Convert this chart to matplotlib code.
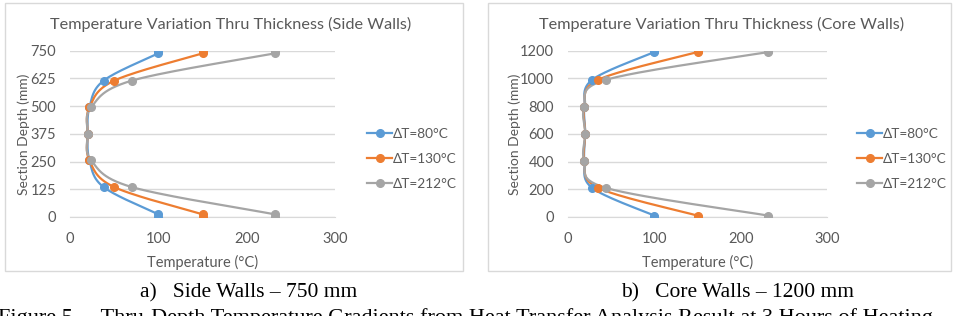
import numpy as np
import matplotlib
matplotlib.use("Agg")
import matplotlib.pyplot as plt
from matplotlib.patches import Rectangle

# side walls (750 mm)
side_depth = [0, 12, 135, 255, 375, 495, 615, 738, 750]
side_80 = [100, 100, 38, 22, 20, 22, 38, 100, 100]
side_130 = [150, 150, 50, 22, 20, 22, 50, 150, 150]
side_212 = [232, 232, 70, 24, 20, 24, 70, 232, 232]

# core walls (1200 mm)
core_depth = [0, 10, 210, 405, 600, 795, 990, 1190, 1200]
core_80 = [100, 100, 28, 19, 20, 19, 28, 100, 100]
core_130 = [150, 150, 35, 19, 20, 19, 35, 150, 150]
core_212 = [232, 232, 44, 19, 20, 19, 44, 232, 232]

labels = ["ΔT=80°C", "ΔT=130°C", "ΔT=212°C"]
colors = ["#5B9BD5", "#ED7D31", "#A5A5A5"]

plt.rcParams["font.family"] = ["Lato", "DejaVu Sans"]
txt = "#595959"


def smooth(x, y, sx, sy, n=30):
    # excel-like bezier smoothing in screen units, end pairs joined straight
    p = np.column_stack([np.array(x) * sx, np.array(y) * sy])
    inner = p[1:-1]
    out = [p[0], inner[0]]
    for i in range(len(inner) - 1):
        p0 = inner[i - 1] if i > 0 else inner[i]
        p1, p2 = inner[i], inner[i + 1]
        p3 = inner[i + 2] if i + 2 < len(inner) else inner[i + 1]
        c1 = p1 + (p2 - p0) / 6
        c2 = p2 - (p3 - p1) / 6
        t = np.linspace(0, 1, n)[1:, None]
        seg = (1 - t) ** 3 * p1 + 3 * (1 - t) ** 2 * t * c1 + 3 * (1 - t) * t ** 2 * c2 + t ** 3 * p2
        out.extend(seg)
    out.append(p[-1])
    out = np.array(out)
    return out[:, 0] / sx, out[:, 1] / sy


fig = plt.figure(figsize=(9.6, 3.16), dpi=100)

W, H = 960, 316
for bx0, bx1 in [(5, 463), (488, 951)]:
    fig.patches.append(Rectangle((bx0 / W, 1 - 271 / H), (bx1 - bx0) / W, 268 / H,
                                 transform=fig.transFigure, fill=False,
                                 edgecolor="#D9D9D9", lw=1))

panels = [
    (70, 335, side_depth, [side_80, side_130, side_212], 750, 125,
     "Temperature Variation Thru Thickness (Side Walls)", 367, 231, 24),
    (568, 827, core_depth, [core_80, core_130, core_212], 1200, 200,
     "Temperature Variation Thru Thickness (Core Walls)", 857, 722, 515),
]

for x0, x1, depth, series, ymax, ystep, title, legx, titlex, ylabx in panels:
    ax = fig.add_axes([x0 / W, 1 - 217 / H, (x1 - x0) / W, 166.3 / H])
    sx = (x1 - x0) / 300
    sy = 166.3 / ymax
    for vals, lab, c in zip(series, labels, colors):
        xs, ys = smooth(vals, depth, sx, sy)
        ax.plot(xs, ys, color=c, lw=1.6, zorder=3)
        ax.plot(vals, depth, "o", color=c, ms=5.5, zorder=4)
        ax.plot([], [], "-o", color=c, lw=1.6, ms=5.5, label=lab)
    ax.set_xlim(0, 300)
    ax.set_ylim(0, ymax)
    ax.set_xticks([0, 100, 200, 300])
    ax.set_yticks(np.arange(0, ymax + 1, ystep))
    ax.grid(axis="y", color="#D9D9D9", lw=1)
    ax.set_axisbelow(True)
    for s in ["top", "right", "left"]:
        ax.spines[s].set_visible(False)
    ax.spines["bottom"].set_color("#D9D9D9")
    ax.tick_params(length=0, labelsize=10.5, colors=txt)
    ax.tick_params(axis="x", pad=11)
    ax.tick_params(axis="y", pad=10)
    ax.set_xlabel("Temperature (°C)", fontsize=10.5, color=txt, labelpad=6)
    fig.text(ylabx / W, 1 - 134 / H, "Section Depth (mm)", rotation=90,
             ha="center", va="center", fontsize=10, color=txt)
    fig.text(titlex / W, 1 - 24 / H, title, ha="center", va="center",
             fontsize=11.7, color=txt)
    ax.legend(loc="center left", bbox_to_anchor=(legx / W, 1 - 159 / H),
              bbox_transform=fig.transFigure, frameon=False, fontsize=9.8,
              labelcolor=txt, handlelength=1.85, handletextpad=0.05,
              labelspacing=0.95, borderpad=0, borderaxespad=0)

fig.text(249 / W, 1 - 293 / H, "a)   Side Walls – 750 mm", ha="center", va="center",
         fontsize=15.5, family="Liberation Serif", color="black")
fig.text(738 / W, 1 - 293 / H, "b)   Core Walls – 1200 mm", ha="center", va="center",
         fontsize=15.5, family="Liberation Serif", color="black")
fig.text(-2 / W, 1 - 323 / H,
         "Figure 5 –  Thru-Depth Temperature Gradients from Heat Transfer Analysis Result at 3 Hours of Heating",
         ha="left", va="baseline", fontsize=16, family="Liberation Serif", color="black")

fig.savefig("out.png", dpi=100, facecolor="white")
